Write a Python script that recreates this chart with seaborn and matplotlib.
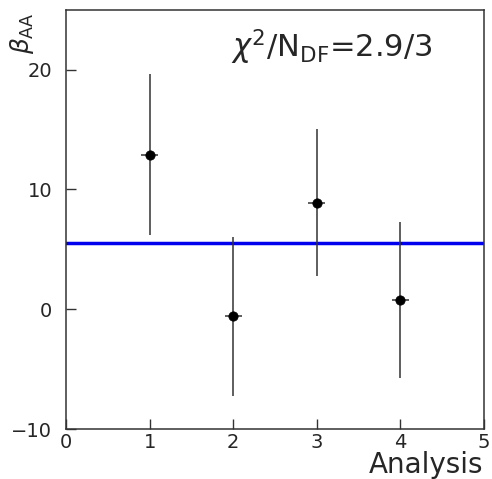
import matplotlib
matplotlib.use("Agg")
import matplotlib.pyplot as plt
import seaborn as sns
import pandas as pd

# dane
analysis = [1, 2, 3, 4]
beta_aa = [12.9, -0.6, 8.9, 0.8]
beta_err = [6.7, 6.6, 6.1, 6.5]
x_err = [0.1, 0.1, 0.1, 0.1]
fit_value = 5.55

df = pd.DataFrame({"analysis": analysis, "beta": beta_aa})

sns.set_style("ticks")
plt.rcParams["font.family"] = ["DejaVu Sans"]

fig = plt.figure(figsize=(4.92, 4.79), dpi=100)
ax = fig.add_axes([0.134, 0.104, 0.850, 0.876])

ax.axhline(fit_value, color="#0000ee", lw=2.5, zorder=1)
ax.errorbar(analysis, beta_aa, yerr=beta_err, xerr=x_err, fmt="none",
            ecolor="#333333", elinewidth=1.1, capsize=0, zorder=2)
sns.scatterplot(data=df, x="analysis", y="beta", ax=ax, color="black",
                s=45, edgecolor="black", zorder=3, legend=False)

ax.set_xlim(0, 5)
ax.set_ylim(-10, 25)
ax.set_xticks([0, 1, 2, 3, 4, 5])
ax.set_yticks([-10, 0, 10, 20])
ax.tick_params(direction="in", length=7, width=1, labelsize=14, color="#333333")
ax.tick_params(axis="x", pad=3)
ax.tick_params(axis="y", pad=10)
for sp in ax.spines.values():
    sp.set_color("#333333")
    sp.set_linewidth(1.1)

ax.set_xlabel("")
ax.set_ylabel("")
fig.text(0.982, 0.0, "Analysis", ha="right", va="bottom", fontsize=20)
fig.text(0.045, 0.975, r"$\beta_{\rm AA}$", rotation=90, ha="center", va="top", fontsize=18)
ax.text(0.395, 0.91, r"$\chi^{2}$/N$_{\rm DF}$=2.9/3", transform=ax.transAxes,
        fontsize=22, ha="left", va="center")

fig.savefig("out.png", dpi=100)
